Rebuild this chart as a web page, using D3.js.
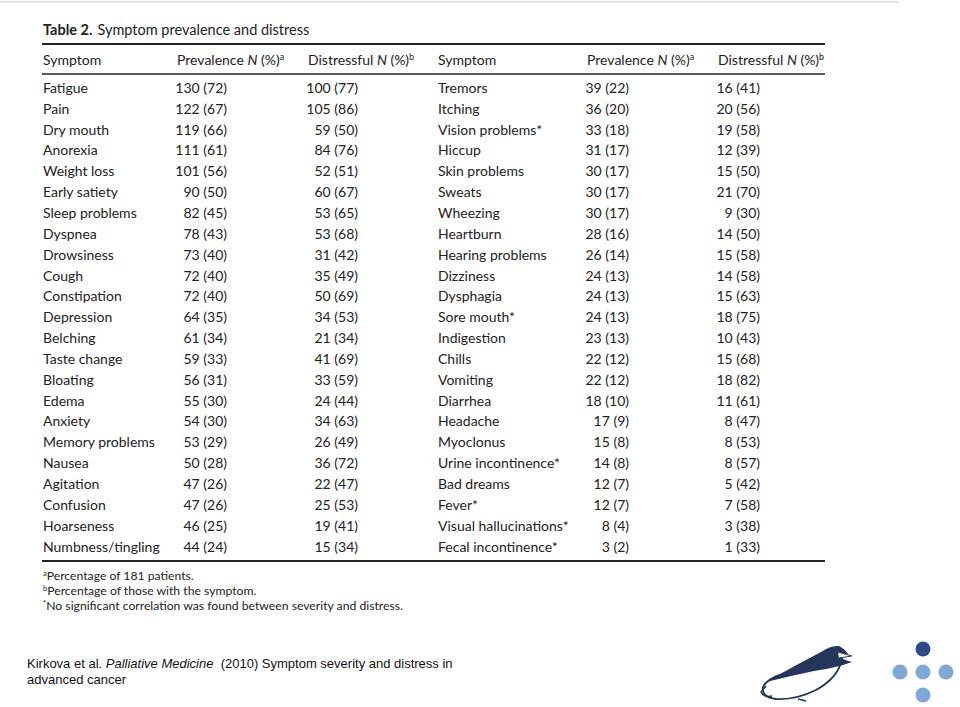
<!DOCTYPE html>
<html><head><meta charset="utf-8">
<script src="https://cdn.jsdelivr.net/npm/d3@7"></script>
<style>
html,body{margin:0;padding:0;background:#fff;}
svg{display:block;}
.t{font-family:Lato,"Open Sans",sans-serif;fill:#222;}
</style></head>
<body>
<svg id="chart" width="960" height="707"></svg>
<script>
const tableTitleBold = "Table 2.";
const tableTitle = "Symptom prevalence and distress";
const headers = [
  {pre:"Symptom", it:"", post:"", sup:""},
  {pre:"Prevalence ", it:"N", post:" (%)", sup:"a"},
  {pre:"Distressful ", it:"N", post:" (%)", sup:"b"}
];
const leftSymptoms = ["Fatigue","Pain","Dry mouth","Anorexia","Weight loss","Early satiety","Sleep problems","Dyspnea","Drowsiness","Cough","Constipation","Depression","Belching","Taste change","Bloating","Edema","Anxiety","Memory problems","Nausea","Agitation","Confusion","Hoarseness","Numbness/tingling"];
const leftPrevN   = [130,122,119,111,101,90,82,78,73,72,72,64,61,59,56,55,54,53,50,47,47,46,44];
const leftPrevPct = [72,67,66,61,56,50,45,43,40,40,40,35,34,33,31,30,30,29,28,26,26,25,24];
const leftDistN   = [100,105,59,84,52,60,53,53,31,35,50,34,21,41,33,24,34,26,36,22,25,19,15];
const leftDistPct = [77,86,50,76,51,67,65,68,42,49,69,53,34,69,59,44,63,49,72,47,53,41,34];
const rightSymptoms = ["Tremors","Itching","Vision problems*","Hiccup","Skin problems","Sweats","Wheezing","Heartburn","Hearing problems","Dizziness","Dysphagia","Sore mouth*","Indigestion","Chills","Vomiting","Diarrhea","Headache","Myoclonus","Urine incontinence*","Bad dreams","Fever*","Visual hallucinations*","Fecal incontinence*"];
const rightPrevN   = [39,36,33,31,30,30,30,28,26,24,24,24,23,22,22,18,17,15,14,12,12,8,3];
const rightPrevPct = [22,20,18,17,17,17,17,16,14,13,13,13,13,12,12,10,9,8,8,7,7,4,2];
const rightDistN   = [16,20,19,12,15,21,9,14,15,14,15,18,10,15,18,11,8,8,8,5,7,3,1];
const rightDistPct = [41,56,58,39,50,70,30,50,58,58,63,75,43,68,82,61,47,53,57,42,58,38,33];
const footnotes = [
  {sup:"a", text:"Percentage of 181 patients."},
  {sup:"b", text:"Percentage of those with the symptom."},
  {sup:"*", text:"No significant correlation was found between severity and distress."}
];
const citation = {pre:"Kirkova et al. ", it:"Palliative Medicine ", post:"\u00a0(2010) Symptom severity and distress in", line2:"advanced cancer"};

const svg = d3.select("#chart");
svg.append("line").attr("x1",0).attr("x2",898).attr("y1",2).attr("y2",2)
  .attr("stroke","#e4e4e4").attr("stroke-width",2);

const tt = svg.append("text").attr("class","t").attr("x",43).attr("y",35).attr("font-size",14.5);
tt.append("tspan").attr("font-weight","bold").text(tableTitleBold);
tt.append("tspan").attr("dx",5).text(tableTitle);

const x0 = 42, x1 = 825;
const rule = (y,w)=>svg.append("line").attr("x1",x0).attr("x2",x1).attr("y1",y).attr("y2",y)
  .attr("stroke","#222").attr("stroke-width",w);
rule(44,2.2); rule(74,1.6); rule(561,1.8);

const groups = [
  {sym:leftSymptoms, pn:leftPrevN, pp:leftPrevPct, dn:leftDistN, dp:leftDistPct, cols:[43,177,308], right:[227,358]},
  {sym:rightSymptoms, pn:rightPrevN, pp:rightPrevPct, dn:rightDistN, dp:rightDistPct, cols:[438,587,718], right:[629,760]}
];
const fs = 14;
const y = d3.scaleBand().domain(d3.range(leftSymptoms.length)).range([77.5,557]);

groups.forEach(g=>{
  headers.forEach((h,i)=>{
    const t = svg.append("text").attr("class","t").attr("x",g.cols[i]).attr("y",65).attr("font-size",fs);
    t.append("tspan").text(h.pre);
    if(h.it){ t.append("tspan").attr("font-style","italic").text(h.it); }
    if(h.post){ t.append("tspan").text(h.post); }
    if(h.sup){ t.append("tspan").attr("font-size",9).attr("dy",-5).text(h.sup); }
  });
  const rows = svg.append("g").selectAll("g").data(g.sym).join("g")
    .attr("transform",(d,i)=>`translate(0,${y(i)+y.bandwidth()/2+5})`);
  rows.append("text").attr("class","t").attr("x",g.cols[0]).attr("font-size",fs).text(d=>d);
  rows.append("text").attr("class","t").attr("x",g.right[0]).attr("text-anchor","end").attr("font-size",fs)
    .text((d,i)=>`${g.pn[i]} (${g.pp[i]})`);
  rows.append("text").attr("class","t").attr("x",g.right[1]).attr("text-anchor","end").attr("font-size",fs)
    .text((d,i)=>`${g.dn[i]} (${g.dp[i]})`);
});

footnotes.forEach((f,i)=>{
  const t = svg.append("text").attr("class","t").attr("x",43).attr("y",580+i*15).attr("font-size",12.2);
  t.append("tspan").attr("font-size",7.5).attr("dy",-4).text(f.sup);
  t.append("tspan").attr("dy",4).text(f.text);
});

const cf = "Liberation Sans, Arial, sans-serif";
const ct = svg.append("text").attr("x",27).attr("y",668).attr("font-family",cf)
  .attr("font-size",13).attr("fill","#111");
ct.append("tspan").text(citation.pre);
ct.append("tspan").attr("font-style","italic").text(citation.it);
ct.append("tspan").text(citation.post);
svg.append("text").attr("x",27).attr("y",684).attr("font-family",cf)
  .attr("font-size",13).attr("fill","#111").text(citation.line2);

// penguin logo
const navy = "#25365a";
const pg = svg.append("g");
pg.append("path").attr("d","M763,687 Q768,677 790,672 Q818,665 842,659 Q838,678 816,690 Q796,700 776,699 Q761,697 763,687 Z")
  .attr("fill","#fff").attr("stroke",navy).attr("stroke-width",1.8);
pg.append("path").attr("d","M766,682 Q794,666 821,652 Q831,645 839,646 Q845,649 848,654 L840,656 Q840,659 852,662 Q836,668 814,671 Q790,676 766,682 Z")
  .attr("fill",navy);
pg.append("path").attr("d","M838,652 L852,656 L839,658").attr("fill","#fff").attr("stroke",navy).attr("stroke-width",1.1);
pg.append("path").attr("d","M766,686 L761,692 Q764,698 772,696 M798,699 L806,701").attr("fill","none").attr("stroke",navy).attr("stroke-width",1.5);

const dots = [[923,649,"#2b4a8b"],[900,672,"#7ea8d8"],[923,672,"#7ea8d8"],[946,672,"#7ea8d8"],[923,695,"#7ea8d8"]];
svg.append("g").selectAll("circle").data(dots).join("circle")
  .attr("cx",d=>d[0]).attr("cy",d=>d[1]).attr("r",7.5).attr("fill",d=>d[2]);
</script>
</body></html>
